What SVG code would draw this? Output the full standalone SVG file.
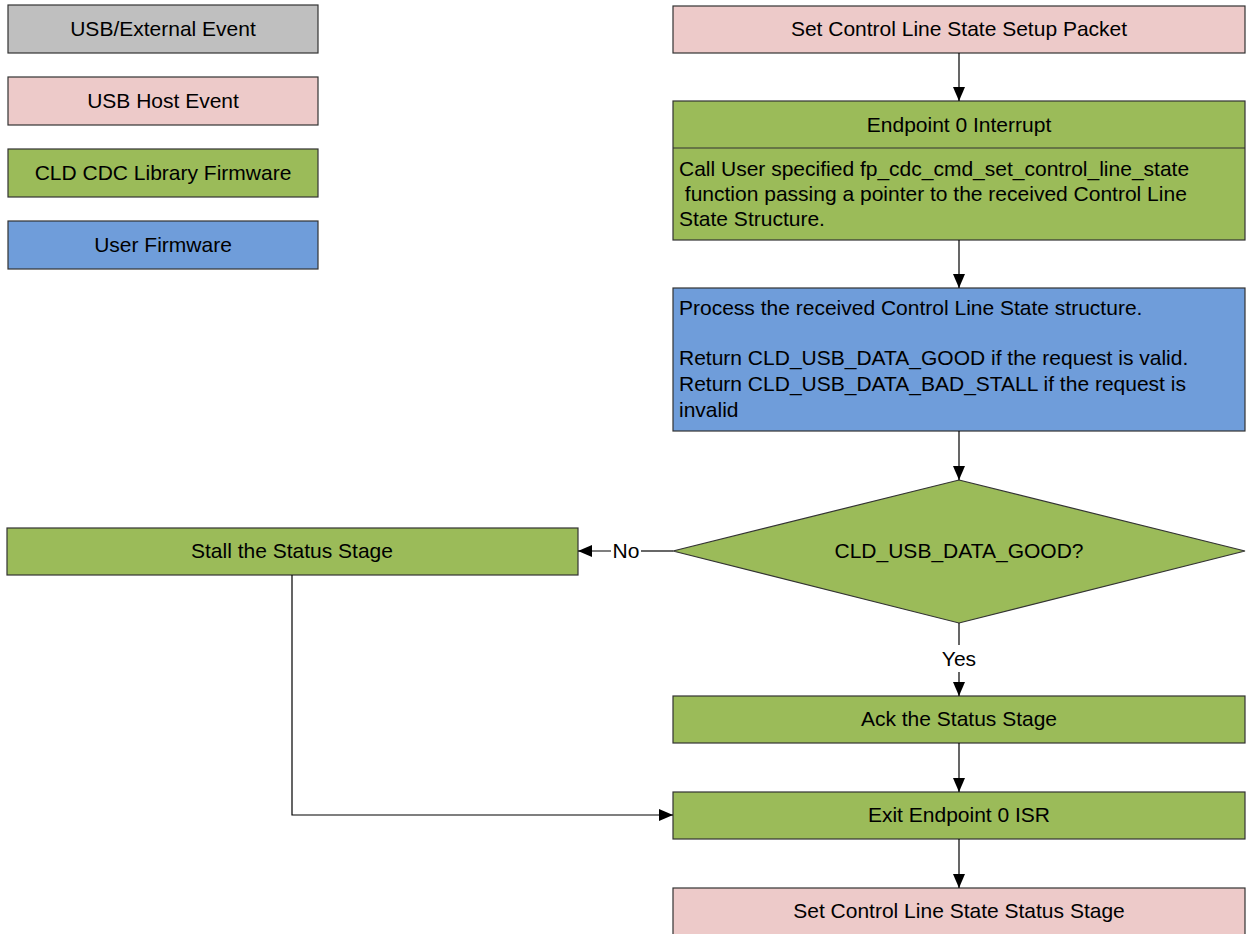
<svg xmlns="http://www.w3.org/2000/svg" width="1247" height="934" viewBox="0 0 1247 934">
<style>
.box{stroke:#333;stroke-width:1.2}
.gray{fill:#BFBFBF}
.pink{fill:#EDCAC9}
.green{fill:#9BBB59}
.blue{fill:#6F9DDA}
text{font-family:"Liberation Sans",Arial,sans-serif;font-size:21px;fill:#000}
.c{text-anchor:middle}
.conn{fill:none;stroke:#000;stroke-width:1.2}
</style>
<defs>
<marker id="arr" viewBox="0 0 14 12" refX="14" refY="6" markerWidth="14" markerHeight="12" markerUnits="userSpaceOnUse" orient="auto">
<path d="M0,0 L14,6 L0,12 Z" fill="#000"/>
</marker>
</defs>
<rect width="1247" height="934" fill="#fff"/>
<g id="legend-usb-external">
<rect class="box gray" x="8" y="5" width="310" height="48"/>
<text class="c" x="163" y="36">USB/External Event</text>
</g>
<g id="legend-usb-host">
<rect class="box pink" x="8" y="77" width="310" height="48"/>
<text class="c" x="163" y="108">USB Host Event</text>
</g>
<g id="legend-cld">
<rect class="box green" x="8" y="149" width="310" height="48"/>
<text class="c" x="163" y="180">CLD CDC Library Firmware</text>
</g>
<g id="legend-user">
<rect class="box blue" x="8" y="221" width="310" height="48"/>
<text class="c" x="163" y="252">User Firmware</text>
</g>
<g id="setup-packet">
<rect class="box pink" x="673" y="6" width="572" height="47"/>
<text class="c" x="959" y="36">Set Control Line State Setup Packet</text>
</g>
<g id="ep0-interrupt">
<rect class="box green" x="673" y="101" width="572" height="139"/>
<line class="box" x1="673" y1="148" x2="1245" y2="148"/>
<text class="c" x="959" y="132">Endpoint 0 Interrupt</text>
<text x="679" y="176">Call User specified fp_cdc_cmd_set_control_line_state</text>
<text x="679" y="201" xml:space="preserve"> function passing a pointer to the received Control Line</text>
<text x="679" y="226">State Structure.</text>
</g>
<g id="process">
<rect class="box blue" x="673" y="288" width="572" height="143"/>
<text x="679" y="315">Process the received Control Line State structure.</text>
<text x="679" y="365">Return CLD_USB_DATA_GOOD if the request is valid.</text>
<text x="679" y="391">Return CLD_USB_DATA_BAD_STALL if the request is</text>
<text x="679" y="417">invalid</text>
</g>
<g id="decision">
<polygon class="box green" points="959,480 1245,551 959,623 673,551"/>
<text class="c" x="959" y="558">CLD_USB_DATA_GOOD?</text>
</g>
<g id="stall">
<rect class="box green" x="7" y="528" width="571" height="47"/>
<text class="c" x="292" y="558">Stall the Status Stage</text>
</g>
<g id="ack">
<rect class="box green" x="673" y="696" width="572" height="47"/>
<text class="c" x="959" y="726">Ack the Status Stage</text>
</g>
<g id="exit">
<rect class="box green" x="673" y="792" width="572" height="47"/>
<text class="c" x="959" y="822">Exit Endpoint 0 ISR</text>
</g>
<g id="status-stage">
<rect class="box pink" x="673" y="888" width="572" height="48"/>
<text class="c" x="959" y="918">Set Control Line State Status Stage</text>
</g>
<g id="connectors">
<line class="conn" x1="959" y1="53" x2="959" y2="101" marker-end="url(#arr)"/>
<line class="conn" x1="959" y1="240" x2="959" y2="288" marker-end="url(#arr)"/>
<line class="conn" x1="959" y1="431" x2="959" y2="480" marker-end="url(#arr)"/>
<line class="conn" x1="673" y1="551" x2="641" y2="551"/>
<line class="conn" x1="611" y1="551" x2="578" y2="551" marker-end="url(#arr)"/>
<text class="c" x="626" y="558">No</text>
<line class="conn" x1="959" y1="623" x2="959" y2="645"/>
<line class="conn" x1="959" y1="672" x2="959" y2="696" marker-end="url(#arr)"/>
<text class="c" x="959" y="666">Yes</text>
<line class="conn" x1="959" y1="743" x2="959" y2="792" marker-end="url(#arr)"/>
<line class="conn" x1="959" y1="839" x2="959" y2="888" marker-end="url(#arr)"/>
<polyline class="conn" points="292,575 292,815 673,815" marker-end="url(#arr)"/>
</g>
</svg>
